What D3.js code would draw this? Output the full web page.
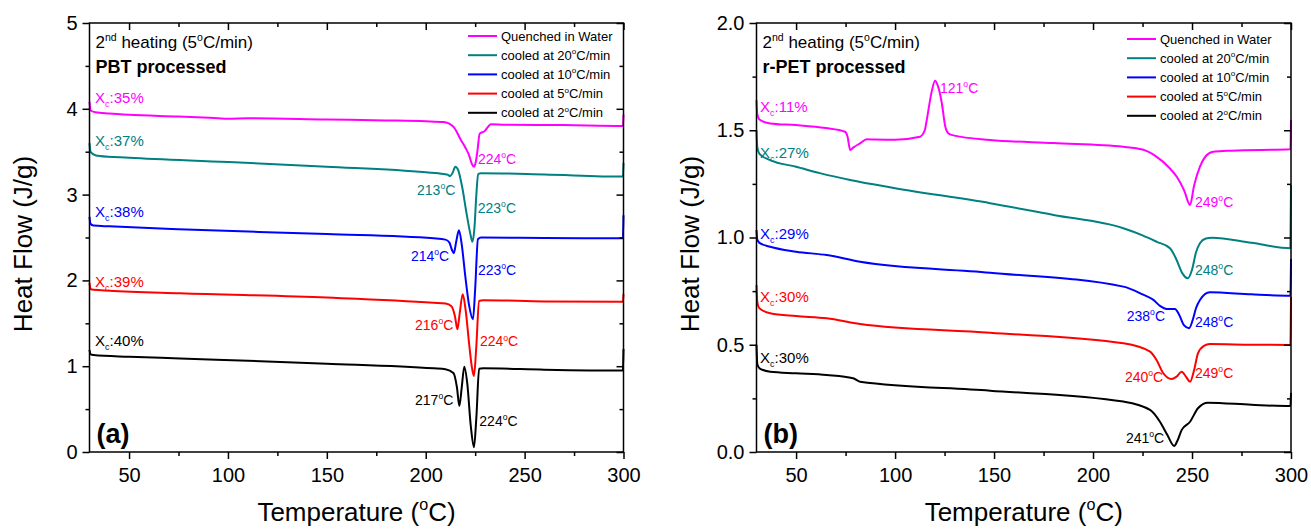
<!DOCTYPE html>
<html>
<head>
<meta charset="utf-8">
<style>
  body { margin: 0; background: #fff; }
  svg { font-family: "Liberation Sans", Arial, sans-serif; }
</style>
</head>
<body>
<svg width="1311" height="531"></svg>
<script src="https://d3js.org/d3.v7.min.js"></script>
<script>
  // ---- data: [temperature (C), heat flow (J/g)] ----
  var pbtQuenched = [[30,4.08],[30.6,3.98],[33,3.96],[40,3.945],[50,3.93],[75,3.91],[95,3.89],[100,3.885],[110,3.89],[150,3.875],[180,3.865],[200,3.855],[209,3.845],[214,3.79],[217.7,3.64],[220,3.55],[221.9,3.46],[223.3,3.36],[224.4,3.325],[225.3,3.38],[226.1,3.50],[227.3,3.71],[229.8,3.74],[231.5,3.79],[233,3.82],[240,3.815],[270,3.81],[299.7,3.80],[300,3.93]];
  var pbt20 = [[30,3.60],[30.5,3.50],[32,3.47],[35,3.45],[50,3.43],[100,3.38],[150,3.325],[200,3.26],[209,3.24],[211.3,3.23],[212.3,3.215],[213.5,3.25],[215,3.325],[216.5,3.28],[218.5,3.08],[220.5,2.80],[222.5,2.55],[223.6,2.45],[224.6,2.6],[225.6,3.0],[226.5,3.24],[228,3.25],[260,3.235],[299.7,3.21],[300,3.37]];
  var pbt10 = [[30,2.74],[30.5,2.66],[32,2.64],[40,2.63],[75,2.595],[150,2.54],[204,2.49],[210,2.475],[212,2.44],[213.2,2.36],[214.2,2.316],[215.4,2.45],[216.8,2.585],[218.2,2.42],[220,2.05],[222,1.7],[223.9,1.546],[225,1.9],[226.4,2.48],[228,2.50],[260,2.495],[299.7,2.49],[300,2.76]];
  var pbt5 = [[30,1.97],[30.5,1.90],[32,1.89],[40,1.88],[75.8,1.85],[150,1.80],[204,1.74],[210,1.73],[213,1.70],[214.8,1.58],[216,1.43],[217.2,1.62],[218.7,1.84],[220.2,1.65],[222,1.25],[223.4,0.98],[224.4,0.886],[225.5,1.2],[227,1.76],[229,1.77],[260,1.755],[299.7,1.75],[300,1.84]];
  var pbt2 = [[30,1.19],[30.5,1.14],[32,1.13],[50,1.11],[75.8,1.09],[150,1.03],[204,0.975],[210,0.965],[214,0.92],[215.8,0.75],[217,0.536],[218.2,0.75],[219.5,0.994],[221,0.8],[222.8,0.3],[224.4,0.055],[225.6,0.4],[227,0.97],[229,0.975],[260,0.96],[299.7,0.95],[300,1.2]];

  var petQuenched = [[30,1.64],[30.4,1.575],[31.5,1.55],[36.9,1.532],[50,1.524],[65,1.51],[74.7,1.493],[76,1.47],[77.3,1.408],[79,1.42],[82.3,1.439],[85.7,1.458],[90,1.457],[100,1.456],[112.6,1.47],[115,1.50],[116,1.548],[118.5,1.68],[120.2,1.731],[121.5,1.71],[123.6,1.627],[125.3,1.52],[127,1.485],[130,1.475],[148,1.455],[180,1.44],[215.3,1.423],[225,1.41],[232,1.377],[238,1.33],[242.3,1.283],[246,1.22],[249,1.152],[251,1.24],[254,1.33],[257,1.38],[260.7,1.40],[270,1.405],[299.7,1.411],[300,1.548]];
  var pet20 = [[30,1.50],[30.4,1.42],[31.5,1.39],[36.9,1.361],[50,1.33],[62,1.30],[77.3,1.268],[100,1.23],[148,1.16],[180,1.105],[215.3,1.043],[225,1.01],[232.2,0.98],[238.9,0.95],[242,0.90],[245,0.835],[247.8,0.81],[250,0.85],[252,0.93],[254,0.973],[257,0.995],[260,0.999],[280,0.975],[299.7,0.95],[300,1.245]];
  var pet10 = [[30,1.035],[30.4,0.99],[31.5,0.975],[36.9,0.957],[50,0.934],[65.5,0.918],[82.3,0.887],[148,0.836],[215.3,0.771],[225,0.735],[230.5,0.709],[234,0.68],[237.2,0.667],[241.4,0.667],[243.5,0.64],[246,0.59],[248.5,0.577],[250.5,0.62],[252,0.67],[254,0.709],[259,0.745],[280,0.735],[299.7,0.729],[300,0.90]];
  var pet5 = [[30,0.778],[30.4,0.70],[31.5,0.67],[36.9,0.647],[50,0.634],[65.5,0.623],[82.3,0.597],[148,0.556],[215.3,0.507],[228.8,0.468],[232,0.43],[235.5,0.367],[239.7,0.34],[242,0.35],[244.8,0.374],[247,0.35],[249,0.328],[251,0.38],[253,0.46],[256,0.495],[259,0.503],[280,0.5],[299.7,0.499],[300,0.724]];
  var pet2 = [[30,0.50],[30.4,0.41],[31.5,0.39],[36.9,0.374],[50,0.367],[65.5,0.359],[78.8,0.344],[82.3,0.328],[148,0.286],[215.3,0.235],[228.8,0.196],[233.8,0.141],[237.5,0.08],[241,0.028],[242.5,0.05],[244.8,0.103],[249,0.141],[253,0.204],[258,0.23],[280,0.22],[299.7,0.214],[300,0.275]];

  var seriesNames = ["Quenched in Water", "cooled at 20^o^C/min", "cooled at 10^o^C/min", "cooled at 5^o^C/min", "cooled at 2^o^C/min"];
  var colors = ["#ff00ff", "#008080", "#0000ff", "#ff0000", "#000000"];

  var xTicks = [50, 100, 150, 200, 250, 300];
  var xMinor = [75, 125, 175, 225, 275];
  var pbtYTicks = [0, 1, 2, 3, 4, 5];
  var pbtYMinor = [0.5, 1.5, 2.5, 3.5, 4.5];
  var petYTicks = [0, 0.5, 1, 1.5, 2];
  var petYMinor = [0.25, 0.75, 1.25, 1.75];

  // annotations: [text, T, heat flow, series index]
  var pbtNotes = [
    ["X_c_:35%", 32.8, 4.07, 0], ["X_c_:37%", 32.8, 3.57, 1], ["X_c_:38%", 32.8, 2.74, 2],
    ["X_c_:39%", 32.8, 1.92, 3], ["X_c_:40%", 32.8, 1.24, 4],
    ["224^o^C", 226.4, 3.36, 0], ["213^o^C", 195.6, 3.0, 1], ["223^o^C", 226.3, 2.79, 1],
    ["214^o^C", 192.5, 2.23, 2], ["223^o^C", 226.4, 2.06, 2], ["216^o^C", 194.6, 1.42, 3],
    ["224^o^C", 227.4, 1.23, 3], ["217^o^C", 194.6, 0.55, 4], ["224^o^C", 227.1, 0.30, 4]
  ];
  var petNotes = [
    ["X_c_:11%", 31.8, 1.586, 0], ["X_c_:27%", 31.8, 1.371, 1], ["X_c_:29%", 31.8, 0.993, 2],
    ["X_c_:30%", 31.8, 0.701, 3], ["X_c_:30%", 31.8, 0.414, 4],
    ["121^o^C", 122.7, 1.672, 0], ["249^o^C", 251.5, 1.141, 0], ["248^o^C", 251.5, 0.825, 1],
    ["238^o^C", 217.0, 0.612, 2], ["248^o^C", 251.5, 0.584, 2], ["240^o^C", 216.1, 0.328, 3],
    ["249^o^C", 251.5, 0.344, 3], ["241^o^C", 216.6, 0.041, 4]
  ];

  var svg = d3.select("svg");
  svg.append("rect").attr("width", 1311).attr("height", 531).attr("fill", "#fff");

  // writes "a^sup^b_sub_c" as tspans
  function rich(text, str, fs) {
    var parts = str.split(/(\^[^\^]*\^|_[^_]*_)/).filter(function(s) { return s.length; });
    var shift = 0;
    parts.forEach(function(p) {
      var target = 0, size = fs, s = p;
      if (p[0] == "^") { target = -0.42 * fs; size = 0.62 * fs; s = p.slice(1, -1); }
      else if (p[0] == "_") { target = 0.28 * fs; size = 0.6 * fs; s = p.slice(1, -1); }
      text.append("tspan").attr("dy", target - shift).attr("font-size", size).text(s);
      shift = target;
    });
  }

  function panel(cfg) {
    var top = 23, bottom = 452;
    var x = d3.scaleLinear().domain([30, 300]).range([cfg.left, cfg.right]);
    var y = d3.scaleLinear().domain([0, cfg.yMax]).range([bottom, top]);
    var g = svg.append("g");

    var line = d3.line()
        .curve(d3.curveMonotoneX)
        .x(function(d) { return x(d[0]); })
        .y(function(d) { return y(d[1]); });

    cfg.series.forEach(function(s, i) {
      g.append("path")
          .datum(s)
          .attr("fill", "none")
          .attr("stroke", colors[i])
          .attr("stroke-width", 2)
          .attr("stroke-linejoin", "round")
          .attr("d", line);
    });

    // axes
    function styleAxis(a) {
      a.select(".domain").remove();
      a.selectAll("line").attr("stroke", "#000").attr("stroke-width", 1.5);
      a.selectAll("text").attr("fill", "#000").attr("font-size", 20).attr("font-family", "Liberation Sans, Arial, sans-serif");
    }
    g.append("g").attr("transform", "translate(0," + bottom + ")")
        .call(d3.axisBottom(x).tickValues(xTicks).tickSize(7).tickSizeOuter(0).tickPadding(9))
        .call(styleAxis);
    g.append("g").attr("transform", "translate(0," + bottom + ")")
        .call(d3.axisBottom(x).tickValues(xMinor).tickSize(4).tickSizeOuter(0).tickFormat(""))
        .call(styleAxis);
    g.append("g").attr("transform", "translate(0," + top + ")")
        .call(d3.axisBottom(x).tickValues(xTicks).tickSize(7).tickSizeOuter(0).tickFormat(""))
        .call(styleAxis);
    g.append("g").attr("transform", "translate(0," + top + ")")
        .call(d3.axisBottom(x).tickValues(xMinor).tickSize(4).tickSizeOuter(0).tickFormat(""))
        .call(styleAxis);
    g.append("g").attr("transform", "translate(" + cfg.left + ",0)")
        .call(d3.axisLeft(y).tickValues(cfg.yTicks).tickSize(7).tickSizeOuter(0).tickPadding(5).tickFormat(d3.format(cfg.yFormat)))
        .call(styleAxis);
    g.append("g").attr("transform", "translate(" + cfg.left + ",0)")
        .call(d3.axisLeft(y).tickValues(cfg.yMinor).tickSize(4).tickSizeOuter(0).tickFormat(""))
        .call(styleAxis);
    g.append("g").attr("transform", "translate(" + cfg.right + ",0)")
        .call(d3.axisLeft(y).tickValues(cfg.yTicks).tickSize(7).tickSizeOuter(0).tickFormat(""))
        .call(styleAxis);
    g.append("g").attr("transform", "translate(" + cfg.right + ",0)")
        .call(d3.axisLeft(y).tickValues(cfg.yMinor).tickSize(4).tickSizeOuter(0).tickFormat(""))
        .call(styleAxis);

    g.append("rect")
        .attr("x", cfg.left).attr("y", top)
        .attr("width", cfg.right - cfg.left).attr("height", bottom - top)
        .attr("fill", "none").attr("stroke", "#000").attr("stroke-width", 1.5);

    // axis titles
    var xt = g.append("text")
        .attr("x", (cfg.left + cfg.right) / 2).attr("y", 521)
        .attr("text-anchor", "middle").attr("font-size", 26);
    rich(xt, "Temperature (^o^C)", 26);
    g.append("text")
        .attr("transform", "translate(" + (cfg.left - 58) + "," + 244 + ") rotate(-90)")
        .attr("text-anchor", "middle").attr("font-size", 26)
        .text("Heat Flow (J/g)");

    // header text
    var h = g.append("text").attr("x", cfg.left + 6).attr("y", 48).attr("font-size", 17);
    rich(h, "2^nd^ heating (5^o^C/min)", 17);
    g.append("text").attr("x", cfg.left + 6).attr("y", 73)
        .attr("font-size", 18).attr("font-weight", "bold").text(cfg.title);
    g.append("text").attr("x", cfg.left + 7).attr("y", 443)
        .attr("font-size", 27).attr("font-weight", "bold").text(cfg.letter);

    // legend
    seriesNames.forEach(function(name, i) {
      var ly = cfg.legendTop + i * 19.2;
      g.append("line")
          .attr("x1", cfg.legendX).attr("x2", cfg.legendX + 29)
          .attr("y1", ly).attr("y2", ly)
          .attr("stroke", colors[i]).attr("stroke-width", 2);
      var t = g.append("text").attr("x", cfg.legendX + 33).attr("y", ly + 4.5).attr("font-size", 13);
      rich(t, name, 13);
    });

    // annotations
    cfg.notes.forEach(function(n) {
      var isXc = n[0][0] == "X";
      var fs = isXc ? 15 : 14;
      var t = g.append("text")
          .attr("x", x(n[1])).attr("y", y(n[2]))
          .attr("fill", colors[n[3]]).attr("font-size", fs);
      rich(t, n[0], fs);
    });
  }

  panel({
    left: 89.5, right: 623.5, yMax: 5, yTicks: pbtYTicks, yMinor: pbtYMinor, yFormat: "d",
    series: [pbtQuenched, pbt20, pbt10, pbt5, pbt2], notes: pbtNotes,
    title: "PBT processed", letter: "(a)", legendTop: 36, legendX: 468
  });
  panel({
    left: 756.5, right: 1291, yMax: 2, yTicks: petYTicks, yMinor: petYMinor, yFormat: ".1f",
    series: [petQuenched, pet20, pet10, pet5, pet2], notes: petNotes,
    title: "r-PET processed", letter: "(b)", legendTop: 39, legendX: 1127
  });
</script>
</body>
</html>
